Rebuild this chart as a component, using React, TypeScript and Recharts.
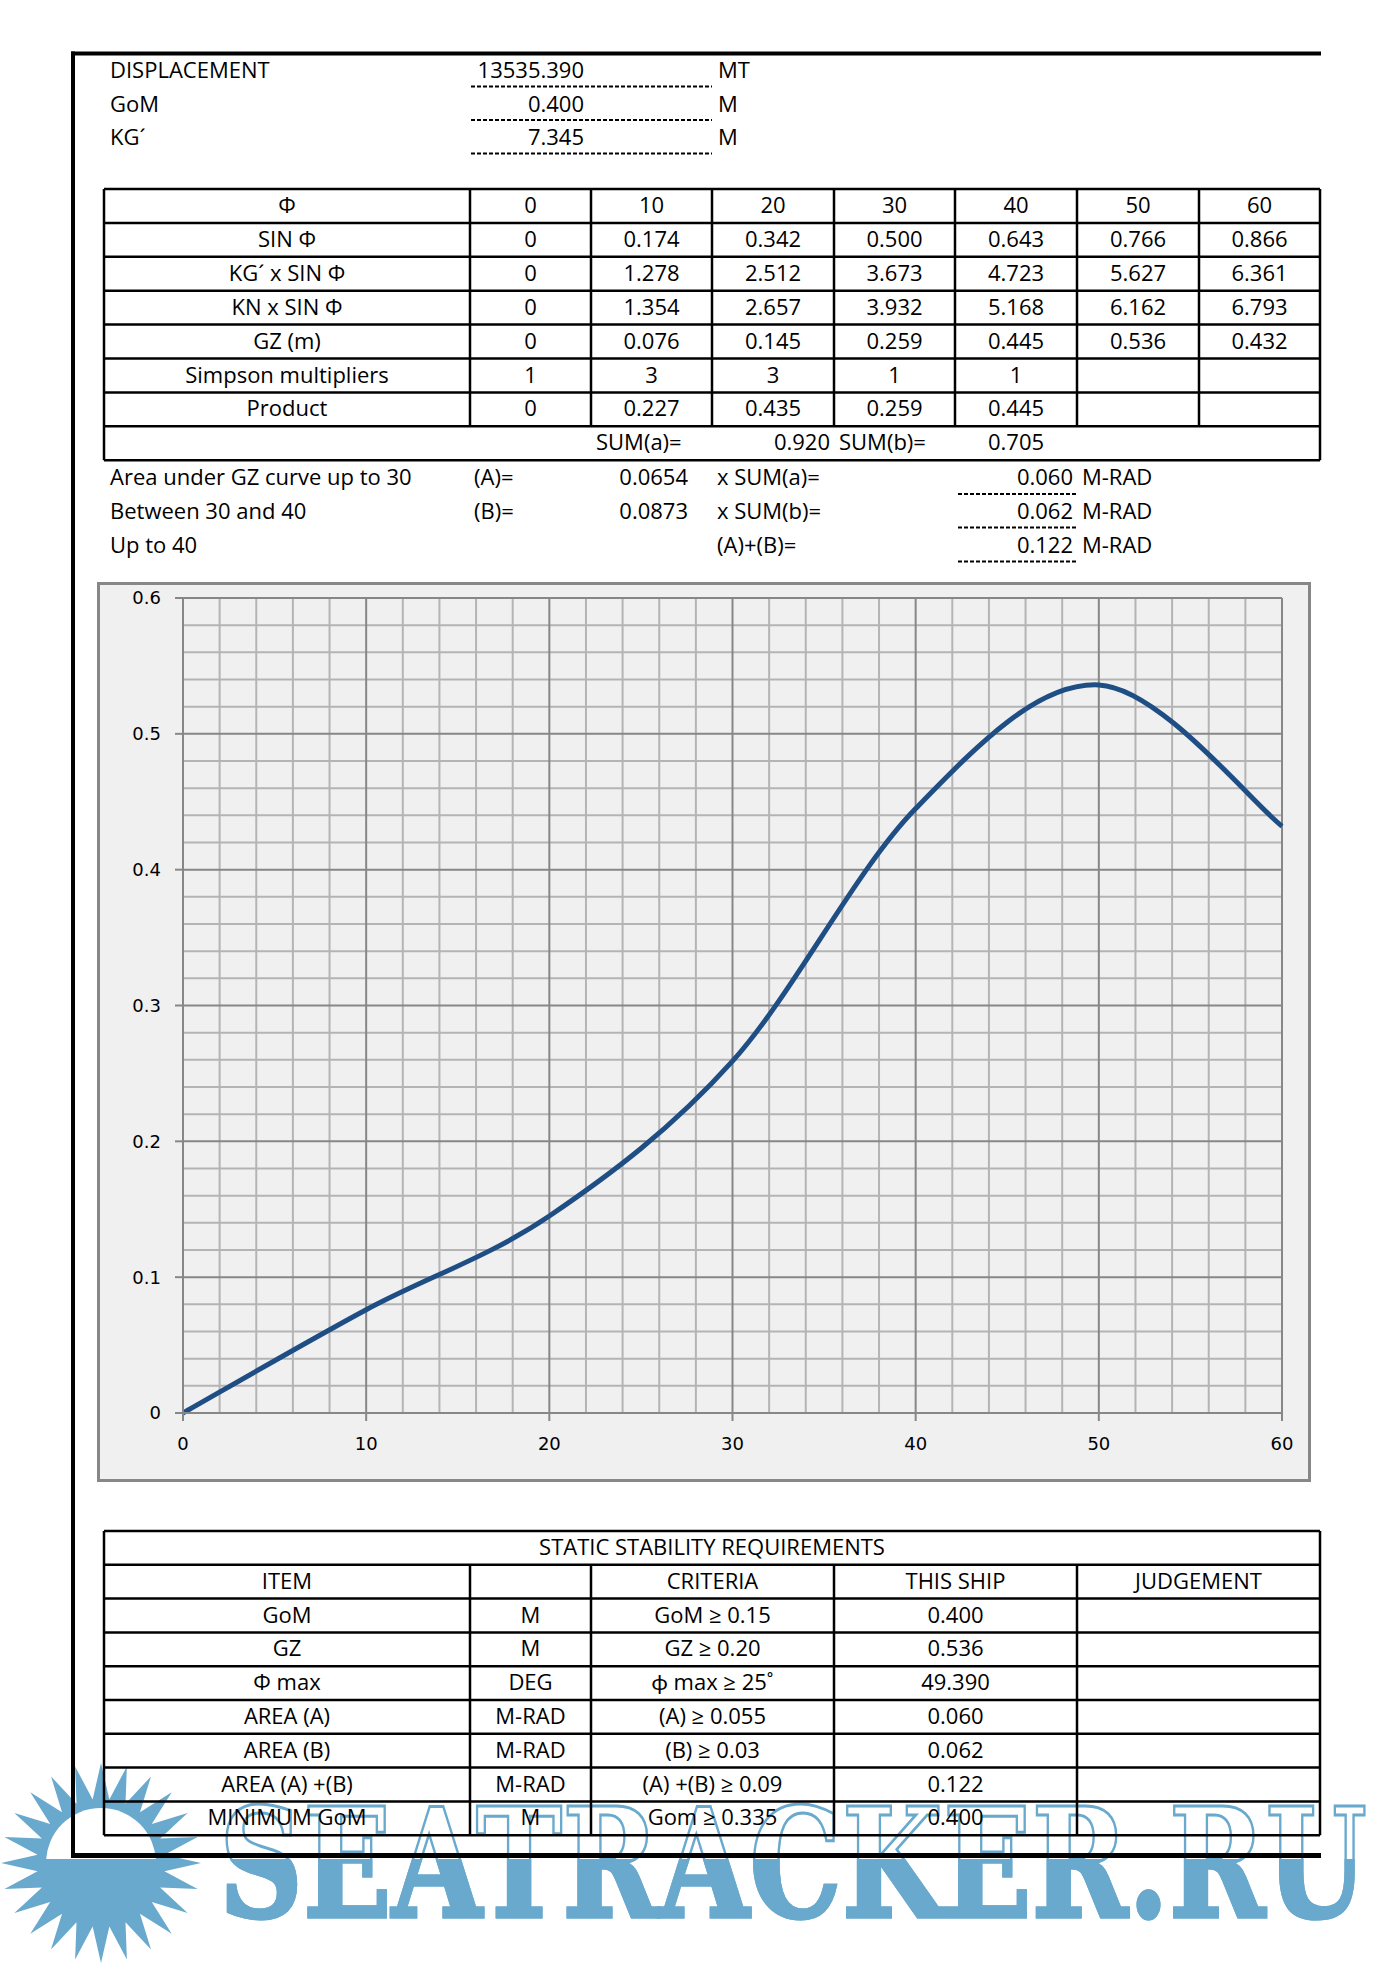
import { LineChart, Line, XAxis, YAxis, ReferenceLine } from "recharts";

// stability sheet values
const angles = [0, 10, 20, 30, 40, 50, 60];
const sinPhi = ["0", "0.174", "0.342", "0.500", "0.643", "0.766", "0.866"];
const kgSinPhi = ["0", "1.278", "2.512", "3.673", "4.723", "5.627", "6.361"];
const knSinPhi = ["0", "1.354", "2.657", "3.932", "5.168", "6.162", "6.793"];
const gz = [0, 0.076, 0.145, 0.259, 0.445, 0.536, 0.432];
const simpsonMultipliers = ["1", "3", "3", "1", "1", "", ""];
const products = ["0", "0.227", "0.435", "0.259", "0.445", "", ""];

const rowLabels = ["Φ", "SIN Φ", "KG´ x SIN Φ", "KN x SIN Φ", "GZ (m)", "Simpson multipliers", "Product"];

const headerRows = [
  ["DISPLACEMENT", "13535.390", "MT"],
  ["GoM", "0.400", "M"],
  ["KG´", "7.345", "M"],
];

const sums = ["SUM(a)=", "0.920", "SUM(b)=", "0.705"];

const areaRows = [
  ["Area under GZ curve up to 30", "(A)=", "0.0654", "x SUM(a)=", "0.060"],
  ["Between 30 and 40", "(B)=", "0.0873", "x SUM(b)=", "0.062"],
  ["Up to 40", "", "", "(A)+(B)=", "0.122"],
];

const reqHeader = ["ITEM", "", "CRITERIA", "THIS SHIP", "JUDGEMENT"];
const requirements = [
  ["GoM", "M", "GoM ≥ 0.15", "0.400", ""],
  ["GZ", "M", "GZ ≥ 0.20", "0.536", ""],
  ["Φ max", "DEG", "ϕ max ≥ 25˚", "49.390", ""],
  ["AREA (A)", "M-RAD", "(A) ≥ 0.055", "0.060", ""],
  ["AREA (B)", "M-RAD", "(B) ≥ 0.03", "0.062", ""],
  ["AREA (A) +(B)", "M-RAD", "(A) +(B) ≥ 0.09", "0.122", ""],
  ["MINIMUM GoM", "M", "Gom ≥ 0.335", "0.400", ""],
];

const xTicks = [0, 10, 20, 30, 40, 50, 60];
const yTicks = [0, 0.1, 0.2, 0.3, 0.4, 0.5, 0.6];
const xMinor = [2, 4, 6, 8, 12, 14, 16, 18, 22, 24, 26, 28, 32, 34, 36, 38, 42, 44, 46, 48, 52, 54, 56, 58];
const yMinor = [
  0.02, 0.04, 0.06, 0.08, 0.12, 0.14, 0.16, 0.18, 0.22, 0.24, 0.26, 0.28,
  0.32, 0.34, 0.36, 0.38, 0.42, 0.44, 0.46, 0.48, 0.52, 0.54, 0.56, 0.58,
];

const FONT = "'Open Sans', Lato, sans-serif";
const AXIS_FONT = "'DejaVu Sans', Verdana, sans-serif";
const BLUE = "#69a9cd";

// Excel style smoothed line (Catmull-Rom through the points)
function excelSmooth(context: any) {
  let pts: number[][] = [];
  return {
    areaStart() {},
    areaEnd() {},
    lineStart() {
      pts = [];
    },
    point(x: number, y: number) {
      pts.push([+x, +y]);
    },
    lineEnd() {
      if (!pts.length) return;
      context.moveTo(pts[0][0], pts[0][1]);
      for (let i = 0; i < pts.length - 1; i++) {
        const p0 = pts[i - 1] || pts[i];
        const p1 = pts[i];
        const p2 = pts[i + 1];
        const p3 = pts[i + 2] || pts[i + 1];
        context.bezierCurveTo(
          p1[0] + (p2[0] - p0[0]) / 6,
          p1[1] + (p2[1] - p0[1]) / 6,
          p2[0] - (p3[0] - p1[0]) / 6,
          p2[1] - (p3[1] - p1[1]) / 6,
          p2[0],
          p2[1]
        );
      }
    },
  };
}

function GzChart() {
  const data = angles.map((angle, i) => ({ angle, gz: gz[i] }));
  const tick = { fill: "#000", fontSize: 18, fontFamily: AXIS_FONT };
  return (
    <LineChart
      width={1214}
      height={900}
      data={data}
      margin={{ top: 16, right: 29, bottom: 29, left: 26 }}
    >
      {yMinor.map((v) => (
        <ReferenceLine key={"ym" + v} y={v} stroke="#b4b4b4" strokeWidth={2} />
      ))}
      {xMinor.map((v) => (
        <ReferenceLine key={"xm" + v} x={v} stroke="#b4b4b4" strokeWidth={2} />
      ))}
      {yTicks.map((v) => (
        <ReferenceLine key={"yM" + v} y={v} stroke="#878787" strokeWidth={2} />
      ))}
      {xTicks.map((v) => (
        <ReferenceLine key={"xM" + v} x={v} stroke="#878787" strokeWidth={2} />
      ))}
      <XAxis
        type="number"
        dataKey="angle"
        domain={[0, 60]}
        ticks={xTicks}
        interval={0}
        height={40}
        tickSize={8}
        tickMargin={16}
        tick={tick}
        axisLine={{ stroke: "#878787", strokeWidth: 2 }}
        tickLine={{ stroke: "#878787", strokeWidth: 2 }}
      />
      <YAxis
        type="number"
        domain={[0, 0.6]}
        ticks={yTicks}
        interval={0}
        width={60}
        tickSize={8}
        tickMargin={14}
        tick={tick}
        axisLine={{ stroke: "#878787", strokeWidth: 2 }}
        tickLine={{ stroke: "#878787", strokeWidth: 2 }}
      />
      <Line
        dataKey="gz"
        type={excelSmooth as any}
        stroke="#1f4e85"
        strokeWidth={5}
        dot={false}
        activeDot={false}
        isAnimationActive={false}
      />
    </LineChart>
  );
}

function Watermark() {
  const cx = 101;
  const cy = 1863;
  const rays = 24;
  const star: string[] = [];
  for (let i = 0; i < rays * 2; i++) {
    const r = i % 2 === 0 ? 100 : 64;
    const a = (Math.PI * i) / rays;
    star.push(`${cx + r * Math.cos(a)},${cy + r * Math.sin(a)}`);
  }
  const wm = {
    x: 219,
    y: 1917,
    textLength: 1148,
    lengthAdjust: "spacingAndGlyphs",
    fontFamily: "'DejaVu Serif', serif",
    fontWeight: 900,
    fontSize: 151,
  };
  return (
    <svg width={1388} height={1965} style={{ position: "absolute", left: 0, top: 0 }}>
      <defs>
        <clipPath id="wmTop">
          <rect x={0} y={0} width={1388} height={1859} />
        </clipPath>
        <mask id="wmMask" maskUnits="userSpaceOnUse" x={0} y={0} width={1388} height={1965}>
          <text {...wm} fill="#fff" stroke="#fff" strokeWidth={3}>SEATRACKER.RU</text>
        </mask>
      </defs>
      <polygon points={star.join(" ")} fill={BLUE} />
      <circle cx={cx} cy={cy} r={55} fill="#fff" clipPath="url(#wmTop)" />
      {/* lower half of the lettering is filled, upper half only outlined */}
      <rect x={0} y={1859} width={1388} height={106} fill={BLUE} mask="url(#wmMask)" />
      <text {...wm} fill="none" stroke={BLUE} strokeWidth={3}>SEATRACKER.RU</text>
    </svg>
  );
}

function Sheet() {
  const txt = { fontFamily: FONT, fontSize: 22, fill: "#000" };
  const cols = [104, 470, 591, 712, 834, 955, 1077, 1199, 1320];
  const mainTop = 189;
  const rowH = 33.9;
  const reqCols = [104, 470, 591, 834, 1077, 1320];
  const reqTop = 1531;
  const reqH = 33.8;
  const mainRows = [angles.map(String), sinPhi, kgSinPhi, knSinPhi, gz.map((v) => (v === 0 ? "0" : v.toFixed(3))), simpsonMultipliers, products];
  const headerBase = [78, 111.5, 145];
  const areaBase = [485, 518.5, 552.5];

  return (
    <svg width={1388} height={1965} style={{ position: "absolute", left: 0, top: 0 }}>
      {/* page frame */}
      <line x1={73} y1={51.5} x2={73} y2={1858} stroke="#000" strokeWidth={4} />
      <line x1={71} y1={53.5} x2={1321} y2={53.5} stroke="#000" strokeWidth={4} />
      <line x1={71} y1={1855.5} x2={1321} y2={1855.5} stroke="#000" strokeWidth={5} />

      {/* header block */}
      {headerRows.map((r, i) => (
        <g key={"h" + i}>
          <text {...txt} x={110} y={headerBase[i]}>{r[0]}</text>
          <text {...txt} x={584} y={headerBase[i]} textAnchor="end">{r[1]}</text>
          <text {...txt} x={718} y={headerBase[i]}>{r[2]}</text>
          <line x1={471} x2={712} y1={headerBase[i] + 8.5} y2={headerBase[i] + 8.5} stroke="#000" strokeWidth={2} strokeDasharray="4 2" />
        </g>
      ))}

      {/* GZ table */}
      {Array.from({ length: 9 }, (_, i) => (
        <line key={"mh" + i} x1={cols[0]} x2={cols[8]} y1={mainTop + i * rowH} y2={mainTop + i * rowH} stroke="#000" strokeWidth={2.5} />
      ))}
      {cols.map((x, i) => (
        <line
          key={"mv" + i}
          x1={x}
          x2={x}
          y1={mainTop}
          y2={i === 0 || i === cols.length - 1 ? mainTop + 8 * rowH : mainTop + 7 * rowH}
          stroke="#000"
          strokeWidth={2.5}
        />
      ))}
      {rowLabels.map((label, r) => (
        <g key={"mr" + r}>
          <text {...txt} x={(cols[0] + cols[1]) / 2} y={mainTop + r * rowH + 24} textAnchor="middle">{label}</text>
          {mainRows[r].map((v, c) => (
            <text key={c} {...txt} x={(cols[c + 1] + cols[c + 2]) / 2} y={mainTop + r * rowH + 24} textAnchor="middle">{v}</text>
          ))}
        </g>
      ))}
      <text {...txt} x={596} y={mainTop + 7 * rowH + 24}>{sums[0]}</text>
      <text {...txt} x={830} y={mainTop + 7 * rowH + 24} textAnchor="end">{sums[1]}</text>
      <text {...txt} x={839} y={mainTop + 7 * rowH + 24}>{sums[2]}</text>
      <text {...txt} x={1016} y={mainTop + 7 * rowH + 24} textAnchor="middle">{sums[3]}</text>

      {/* area lines */}
      {areaRows.map((r, i) => (
        <g key={"a" + i}>
          <text {...txt} x={110} y={areaBase[i]}>{r[0]}</text>
          <text {...txt} x={474} y={areaBase[i]}>{r[1]}</text>
          <text {...txt} x={688} y={areaBase[i]} textAnchor="end">{r[2]}</text>
          <text {...txt} x={717} y={areaBase[i]}>{r[3]}</text>
          <text {...txt} x={1073} y={areaBase[i]} textAnchor="end">{r[4]}</text>
          <text {...txt} x={1082} y={areaBase[i]}>M-RAD</text>
          <line x1={958} x2={1078} y1={areaBase[i] + 9} y2={areaBase[i] + 9} stroke="#000" strokeWidth={2} strokeDasharray="4 2" />
        </g>
      ))}

      {/* requirements table */}
      {Array.from({ length: 10 }, (_, i) => (
        <line key={"rh" + i} x1={reqCols[0]} x2={reqCols[5]} y1={reqTop + i * reqH} y2={reqTop + i * reqH} stroke="#000" strokeWidth={2.5} />
      ))}
      {reqCols.map((x, i) => (
        <line
          key={"rv" + i}
          x1={x}
          x2={x}
          y1={i === 0 || i === reqCols.length - 1 ? reqTop : reqTop + reqH}
          y2={reqTop + 9 * reqH}
          stroke="#000"
          strokeWidth={2.5}
        />
      ))}
      <text {...txt} x={712} y={reqTop + 24} textAnchor="middle">STATIC STABILITY REQUIREMENTS</text>
      {[reqHeader, ...requirements].map((row, r) => (
        <g key={"rr" + r}>
          {row.map((v, c) => (
            <text key={c} {...txt} x={(reqCols[c] + reqCols[c + 1]) / 2} y={reqTop + (r + 1) * reqH + 24} textAnchor="middle">{v}</text>
          ))}
        </g>
      ))}
    </svg>
  );
}

export default function App() {
  return (
    <div style={{ position: "absolute", left: 0, top: 0, width: 1388, height: 1965, background: "#fff" }}>
      <Watermark />
      <div
        style={{
          position: "absolute",
          left: 97,
          top: 582,
          width: 1214,
          height: 900,
          boxSizing: "border-box",
          border: "3px solid #878787",
          background: "#f0f0f0",
        }}
      />
      <div style={{ position: "absolute", left: 97, top: 582, width: 1214, height: 900 }}>
        <GzChart />
      </div>
      <Sheet />
    </div>
  );
}
